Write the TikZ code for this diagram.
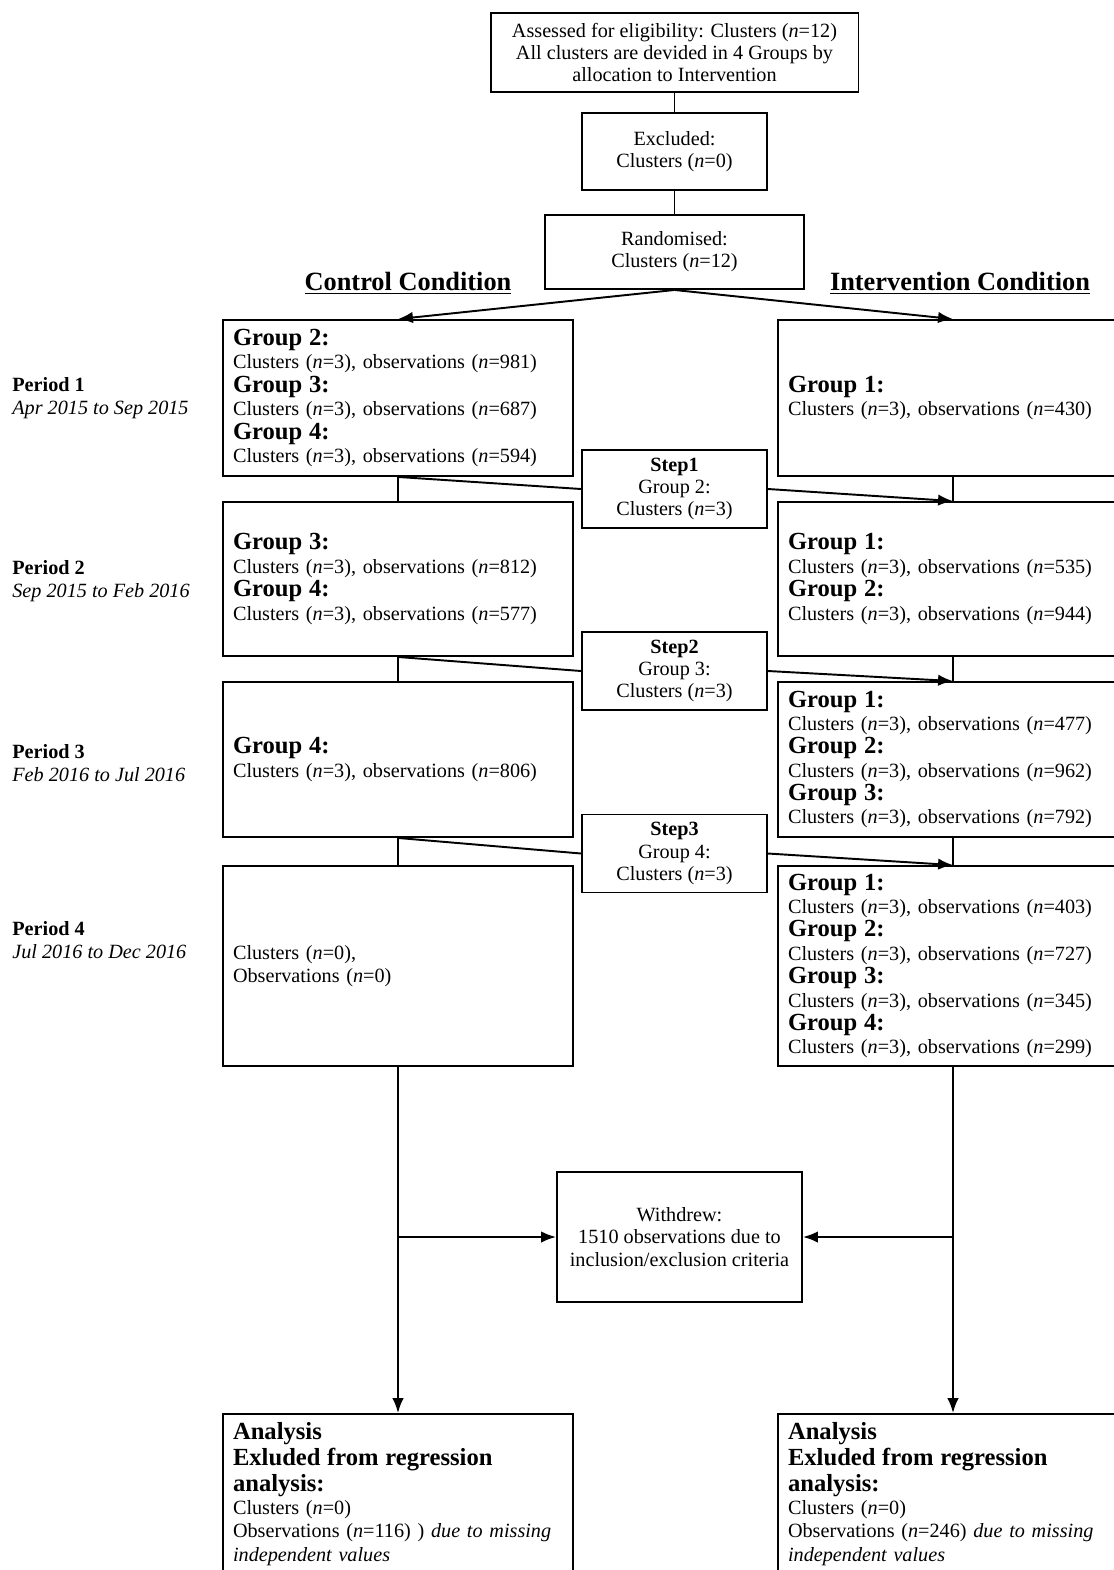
\documentclass[tikz,border=0pt]{standalone}
\usepackage{fontspec}
\setmainfont{Liberation Serif}
\usetikzlibrary{arrows.meta}

\newcommand{\grpfont}{\fontsize{14}{13.3}\selectfont\bfseries}
\newcommand{\grp}[1]{{\grpfont Group #1:}}
\newcommand{\obs}[1]{Clusters (\textit{n}=3), observations (\textit{n}=#1)}

\tikzset{
  flowbox/.style={draw, line width=1.1pt, rectangle, inner sep=0pt, align=center,
    font=\fontsize{11.5}{12.6}\selectfont},
  grpbox/.style={flowbox, minimum width=7cm, text width=6.6cm, inner xsep=0.2cm, align=left,
    font=\fontsize{11.5}{13.3}\selectfont},
  stepbox/.style={flowbox, minimum width=3.7cm, minimum height=1.56cm},
  periodlbl/.style={anchor=west, align=left, inner sep=0pt, font=\fontsize{11.5}{13}\selectfont},
  headlbl/.style={font=\fontsize{15}{16}\selectfont\bfseries},
  conn/.style={line width=1.1pt},
  arr/.style={line width=1.1pt, -{Latex[length=8.5pt,width=6.5pt]}},
}

\begin{document}
\begin{tikzpicture}[x=0.02cm, y=-0.02cm]
    \useasboundingbox (0,0) rectangle (1114,1570);
    \clip (0,0) rectangle (1114,1570);

    \node[flowbox, minimum width=7.36cm, minimum height=1.58cm] (assess) at (674.5,52.5)
        {Assessed for eligibility: Clusters (\textit{n}=12)\\All clusters are devided in 4 Groups by\\allocation to Intervention};
    \node[flowbox, minimum width=3.7cm, minimum height=1.54cm] (excl) at (674.5,151.5)
        {Excluded:\\Clusters (\textit{n}=0)};
    \node[flowbox, minimum width=5.18cm, minimum height=1.48cm] (rand) at (674.5,252)
        {Randomised:\\Clusters (\textit{n}=12)};

    \node[headlbl] (ctrl) at (408,283) {\underline{Control Condition}};
    \node[headlbl] (intv) at (960,283) {\underline{Intervention Condition}};

    % periods
    \node[periodlbl] (p1) at (12,398.5) {\textbf{Period 1}\\\textit{Apr 2015 to Sep 2015}};
    \node[periodlbl] (p2) at (12,581) {\textbf{Period 2}\\\textit{Sep 2015 to Feb 2016}};
    \node[periodlbl] (p3) at (12,763.5) {\textbf{Period 3}\\\textit{Feb 2016 to Jul 2016}};
    \node[periodlbl] (p4) at (12,940) {\textbf{Period 4}\\\textit{Jul 2016 to Dec 2016}};

    % control condition
    \node[grpbox, minimum height=3.12cm] (c1) at (398,398)
        {\grp{2}\\\obs{981}\\\grp{3}\\\obs{687}\\\grp{4}\\\obs{594}};
    \node[grpbox, minimum height=3.08cm] (c2) at (398,579)
        {\grp{3}\\\obs{812}\\\grp{4}\\\obs{577}};
    \node[grpbox, minimum height=3.1cm] (c3) at (398,759.5)
        {\grp{4}\\\obs{806}};
    \node[grpbox, minimum height=4cm] (c4) at (398,966)
        {Clusters (\textit{n}=0),\\Observations (\textit{n}=0)};

    % intervention condition
    \node[grpbox, minimum height=3.12cm] (i1) at (953,398)
        {\grp{1}\\\obs{430}};
    \node[grpbox, minimum height=3.08cm] (i2) at (953,579)
        {\grp{1}\\\obs{535}\\\grp{2}\\\obs{944}};
    \node[grpbox, minimum height=3.1cm] (i3) at (953,759.5)
        {\grp{1}\\\obs{477}\\\grp{2}\\\obs{962}\\\grp{3}\\\obs{792}};
    \node[grpbox, minimum height=4cm] (i4) at (953,966)
        {\grp{1}\\\obs{403}\\\grp{2}\\\obs{727}\\\grp{3}\\\obs{345}\\\grp{4}\\\obs{299}};

    % steps
    \node[stepbox] (s1) at (674.5,489) {\textbf{Step1}\\Group 2:\\Clusters (\textit{n}=3)};
    \node[stepbox] (s2) at (674.5,671) {\textbf{Step2}\\Group 3:\\Clusters (\textit{n}=3)};
    \node[stepbox] (s3) at (674.5,853.5) {\textbf{Step3}\\Group 4:\\Clusters (\textit{n}=3)};

    \node[flowbox, minimum width=4.9cm, minimum height=2.6cm] (wd) at (679.5,1237)
        {Withdrew:\\1510 observations due to\\inclusion/exclusion criteria};

    \node[grpbox, minimum height=3.2cm] (a1) at (398,1494)
        {{\grpfont Analysis}\\[1.4pt]{\grpfont Exluded from regression}\\[1.4pt]{\grpfont analysis:}\\Clusters (\textit{n}=0)\\Observations (\textit{n}=116) ) \textit{due to missing}\\\textit{independent values}};
    \node[grpbox, minimum height=3.2cm] (a2) at (953,1494)
        {{\grpfont Analysis}\\[1.4pt]{\grpfont Exluded from regression}\\[1.4pt]{\grpfont analysis:}\\Clusters (\textit{n}=0)\\Observations (\textit{n}=246) \textit{due to missing}\\\textit{independent values}};

    \draw[conn] (assess) -- (excl);
    \draw[conn] (excl) -- (rand);
    \draw[arr] (rand.south) -- (c1.north);
    \draw[arr] (rand.south) -- (i1.north);

    \draw[conn] (c1) -- (c2);
    \draw[conn] (c2) -- (c3);
    \draw[conn] (c3) -- (c4);
    \draw[conn] (i1) -- (i2);
    \draw[conn] (i2) -- (i3);
    \draw[conn] (i3) -- (i4);

    %Following lines are for the steps
    \draw[conn] (c1.south) -- (s1.west);
    \draw[arr] (s1.east) -- (i2.north);
    \draw[conn] (c2.south) -- (s2.west);
    \draw[arr] (s2.east) -- (i3.north);
    \draw[conn] (c3.south) -- (s3.west);
    \draw[arr] (s3.east) -- (i4.north);

    \draw[arr] (c4) -- (a1);
    \draw[arr] (i4) -- (a2);
    \draw[arr] (wd.west -| c4.south) -- (wd.west);
    \draw[arr] (wd.east -| i4.south) -- (wd.east);

\end{tikzpicture}
\end{document}
